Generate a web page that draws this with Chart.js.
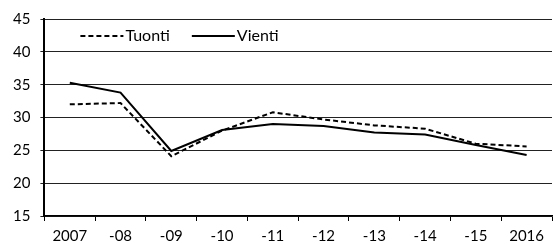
<!DOCTYPE html>
<html>
<head>
<meta charset="utf-8">
<script src="https://cdn.jsdelivr.net/npm/chart.js@4"></script>
<style>
  html, body { margin: 0; padding: 0; background: #fff; }
  #wrap { width: 553px; height: 244px; }
</style>
</head>
<body>
<div id="wrap"><canvas id="graphics"></canvas></div>
<script>
const years = ['2007', '-08', '-09', '-10', '-11', '-12', '-13', '-14', '-15', '2016'];
const tuonti = [32.0, 32.2, 24.1, 28.0, 30.8, 29.7, 28.8, 28.3, 26.0, 25.6];
const vienti = [35.3, 33.8, 24.9, 28.1, 29.0, 28.7, 27.7, 27.4, 25.8, 24.3];

// legend drawn inside the plot area, top left
const innerLegend = {
    id: 'innerLegend',
    afterDatasetsDraw(chart) {
        const ctx = chart.ctx;
        const area = chart.chartArea;
        const y = area.top + 17;
        let x = area.left + 36;
        ctx.save();
        ctx.font = '16px Lato';
        ctx.textBaseline = 'middle';
        chart.data.datasets.forEach(ds => {
            ctx.beginPath();
            ctx.strokeStyle = ds.borderColor;
            ctx.lineWidth = ds.borderWidth;
            ctx.setLineDash(ds.borderDash || []);
            ctx.moveTo(x, y);
            ctx.lineTo(x + 43, y);
            ctx.stroke();
            ctx.setLineDash([]);
            ctx.fillStyle = '#000';
            ctx.fillText(ds.label, x + 45, y);
            x += 45 + ctx.measureText(ds.label).width + 22;
        });
        ctx.restore();
    }
};

var ctx = document.getElementById('graphics').getContext('2d');
var myChart = new Chart(ctx, {
    type: 'line',
    data: {
        labels: years,
        datasets: [{
            label: 'Tuonti',
            borderColor: '#000',
            borderWidth: 2,
            borderDash: [5, 3],
            data: tuonti,
            fill: false,
            pointRadius: 0,
            tension: 0
        }, {
            label: 'Vienti',
            borderColor: '#000',
            borderWidth: 2,
            data: vienti,
            fill: false,
            pointRadius: 0,
            tension: 0
        }]
    },
    options: {
        responsive: true,
        maintainAspectRatio: false,
        animation: false,
        layout: { padding: { top: 8, right: 1, left: 3, bottom: -8 } },
        plugins: { legend: { display: false }, tooltip: { enabled: false } },
        scales: {
            x: {
                offset: true,
                grid: { offset: true, drawOnChartArea: false, drawTicks: true, tickLength: 5, color: '#000' },
                border: { color: '#000', width: 1.5 },
                ticks: { color: '#000', font: { family: 'Lato', size: 15, lineHeight: 1 }, maxRotation: 0, autoSkip: false, padding: 8 }
            },
            y: {
                min: 15,
                max: 45,
                ticks: { stepSize: 5, color: '#000', font: { family: 'Lato', size: 15 }, padding: 10 },
                grid: { color: '#222', lineWidth: 1, drawTicks: true, tickLength: 4 },
                border: { color: '#000', width: 2 }
            }
        }
    },
    plugins: [innerLegend]
});
</script>
</body>
</html>
